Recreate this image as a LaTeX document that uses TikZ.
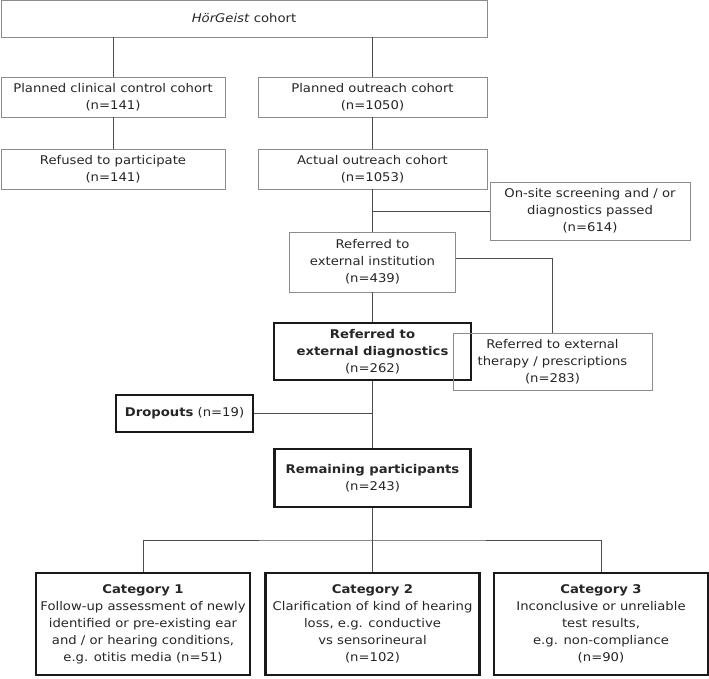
\documentclass[tikz,border=0pt]{standalone}
\usepackage{fontspec}
\setmainfont[FakeStretch=1.1]{DejaVu Sans}
\tikzset{
  every node/.style={font=\fontsize{12}{17}\selectfont, text=black!85, align=center, inner sep=0pt},
  thinbox/.style={draw=black!45, line width=.8pt, rectangle},
  boldbox/.style={draw=black!90, line width=2.2pt, rectangle},
  link/.style={draw=black!70, line width=.9pt}
}
\begin{document}
\begin{tikzpicture}[x=1pt,y=1pt]
  \useasboundingbox (0,0) rectangle (709,-679);
  \node[thinbox, minimum width=486pt, minimum height=37pt] (cohort) at (244,-18.5) {\textit{HörGeist} cohort};
  \node[thinbox, minimum width=224pt, minimum height=40pt] (clinical) at (113,-97) {Planned clinical control cohort\\(n=141)};
  \node[thinbox, minimum width=229pt, minimum height=40pt] (planned) at (372.5,-97) {Planned outreach cohort\\(n=1050)};
  \node[thinbox, minimum width=224pt, minimum height=40pt] (refused) at (113,-169) {Refused to participate\\(n=141)};
  \node[thinbox, minimum width=229pt, minimum height=40pt] (actual) at (372.5,-169) {Actual outreach cohort\\(n=1053)};
  \node[thinbox, minimum width=200pt, minimum height=58pt] (onsite) at (590,-211) {On-site screening and / or\\diagnostics passed\\(n=614)};
  \node[thinbox, minimum width=166pt, minimum height=60pt] (institution) at (372.5,-262) {Referred to\\external institution\\(n=439)};
  \node[boldbox, minimum width=197pt, minimum height=57pt] (diagnostics) at (372.5,-351.5) {\textbf{Referred to}\\\textbf{external diagnostics}\\(n=262)};
  \node[thinbox, minimum width=199pt, minimum height=57pt] (therapy) at (552.5,-361.5) {Referred to external\\therapy / prescriptions\\(n=283)};
  \node[boldbox, minimum width=137pt, minimum height=37pt] (dropouts) at (184.5,-413.5) {\textbf{Dropouts} (n=19)};
  \node[boldbox, minimum width=196pt, minimum height=58pt] (remaining) at (372.5,-478) {\textbf{Remaining participants}\\(n=243)};
  \node[boldbox, minimum width=214pt, minimum height=102pt] (cat1) at (143,-624) {\textbf{Category 1}\\Follow-up assessment of newly\\identified or pre-existing ear\\and / or hearing conditions,\\e.g. otitis media (n=51)};
  \node[boldbox, minimum width=214pt, minimum height=102pt] (cat2) at (372.5,-624) {\textbf{Category 2}\\Clarification of kind of hearing\\loss, e.g. conductive\\vs sensorineural\\(n=102)};
  \node[boldbox, minimum width=214pt, minimum height=102pt] (cat3) at (601,-624) {\textbf{Category 3}\\Inconclusive or unreliable\\test results,\\e.g. non-compliance\\(n=90)};
  \coordinate (fork) at (372.5,-540);
  \draw[link] (cohort.south -| clinical) -- (clinical);
  \draw[link] (cohort.south -| planned) -- (planned);
  \draw[link] (clinical) -- (refused);
  \draw[link] (planned) -- (actual);
  \draw[link] (actual) -- (institution);
  \draw[link] (onsite.west) -- (onsite.west -| actual.south);
  \draw[link] (institution) -- (diagnostics);
  \draw[link] ([yshift=4pt]institution.east) -| (therapy.north);
  \draw[link] (diagnostics) -- (remaining);
  \draw[link] (dropouts.east) -- (dropouts.east -| diagnostics.south);
  \draw[link] (remaining) -- (fork);
  \draw[link] (cat1.north) |- (fork) -| (cat3.north);
  \draw[link] (fork) -- (cat2);
\end{tikzpicture}
\end{document}
